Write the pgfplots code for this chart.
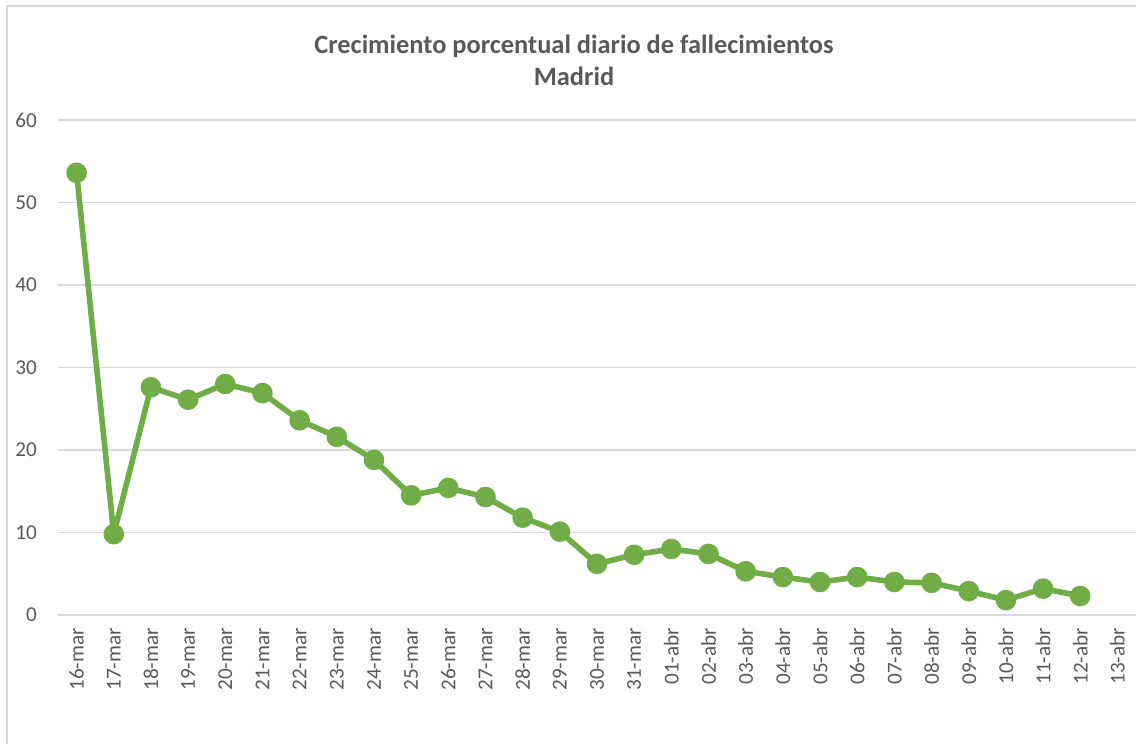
\documentclass[border=0pt]{standalone}
\usepackage{pgfplots}
\pgfplotsset{compat=1.18}
\usepackage{fontspec}
\setmainfont{Carlito}
\newfontfamily\titlefont{Carlito}
\definecolor{linegreen}{HTML}{70AD47}
\definecolor{gridgray}{HTML}{D9D9D9}
\definecolor{textgray}{HTML}{595959}
\begin{document}
\begin{tikzpicture}[x=1pt,y=1pt]
\path[use as bounding box] (0,0) rectangle (568,372);
\draw[gridgray, line width=1pt] (3.5,0) -- (3.5,369) -- (568,369);
\node[font=\titlefont\bfseries\fontsize{13.2}{16}\selectfont, text=textgray, align=center] at (287,342) {Crecimiento porcentual diario de fallecimientos\\Madrid};
\begin{axis}[
  at={(29pt,64.5pt)}, anchor=south west,
  scale only axis, width=539pt, height=247.5pt,
  xmin=-0.5, xmax=28.5, ymin=0, ymax=60,
  clip=false,
  axis line style={draw=none},
  tick style={draw=none},
  ytick={0,10,...,60},
  xtick={0,...,28},
  xticklabels={16-mar,17-mar,18-mar,19-mar,20-mar,21-mar,22-mar,23-mar,24-mar,25-mar,26-mar,27-mar,28-mar,29-mar,30-mar,31-mar,01-abr,02-abr,03-abr,04-abr,05-abr,06-abr,07-abr,08-abr,09-abr,10-abr,11-abr,12-abr,13-abr},
  ymajorgrids, grid style={gridgray, line width=0.75pt},
  /pgf/number format/assume math mode=true,
  ticklabel style={font=\fontsize{10.6}{12}\selectfont, text=textgray},
  yticklabel style={xshift=-7pt},
  xticklabel shift=3pt,
  xticklabel style={rotate=90, anchor=east},
]
\addplot[color=linegreen, line width=2.8pt, line join=round, mark=*, mark size=3.75pt, mark options={solid, fill=linegreen, draw=none}] coordinates {
(0,53.6) (1,9.8) (2,27.6) (3,26.1) (4,28.0) (5,26.9) (6,23.6) (7,21.6) (8,18.8) (9,14.5)
(10,15.4) (11,14.3) (12,11.8) (13,10.1) (14,6.2) (15,7.3) (16,8.0) (17,7.4) (18,5.3) (19,4.6)
(20,4.0) (21,4.6) (22,4.0) (23,3.9) (24,2.9) (25,1.8) (26,3.2) (27,2.3)
};
\end{axis}
\end{tikzpicture}
\end{document}
